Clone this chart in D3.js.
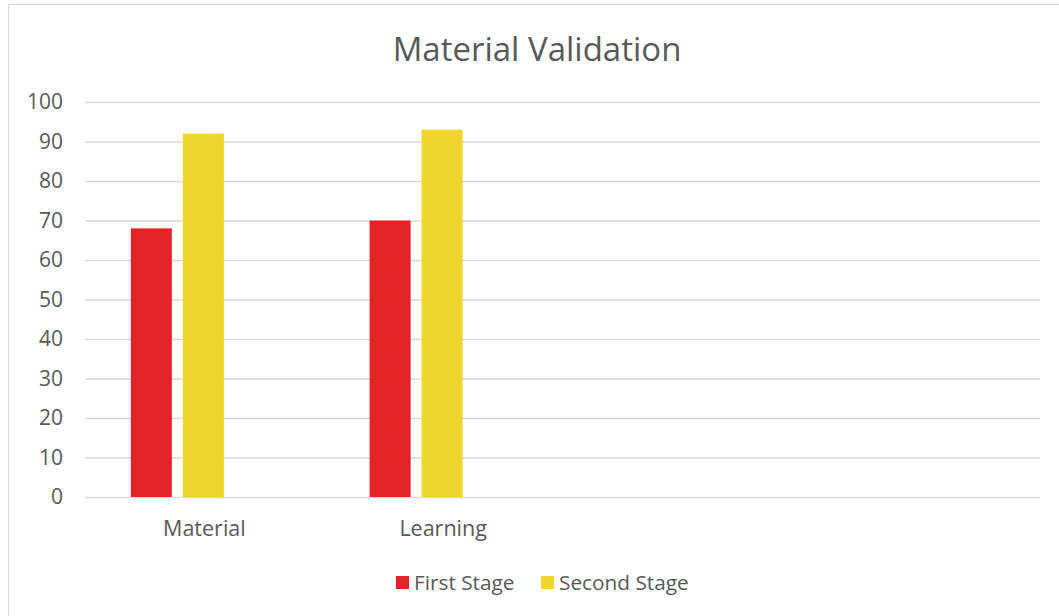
<!DOCTYPE html>
<html>
<head>
<meta charset="utf-8">
<script src="https://cdn.jsdelivr.net/npm/d3@7"></script>
<style>
  html, body { margin: 0; padding: 0; background: #fff; }
  svg { display: block; }
  text { font-family: "Open Sans", "Noto Sans", sans-serif; fill: #595959; }
</style>
</head>
<body>
<svg id="chart" width="1059" height="616"></svg>
<script>
// Chart data
const title = "Material Validation";
const categories = ["Material", "Learning", "", ""];
const seriesNames = ["First Stage", "Second Stage"];
const firstStage = [68, 70, null, null];
const secondStage = [92, 93, null, null];
const yTicks = [0, 10, 20, 30, 40, 50, 60, 70, 80, 90, 100];
const seriesColors = ["#E32427", "#F0D52F"];

const svg = d3.select("#chart");
const W = 1059, H = 616;

// outer chart-area frame
svg.append("rect")
  .attr("x", 8.5).attr("y", 4.5)
  .attr("width", W - 6).attr("height", H)
  .attr("fill", "#fff").attr("stroke", "#d9d9d9").attr("stroke-width", 1);

const plot = { left: 85, right: 1040, top: 102, bottom: 497 };

const x = d3.scaleBand()
  .domain(d3.range(categories.length))
  .range([plot.left, plot.right]);

// three bar slots per category; only the first two carry data
const slots = d3.scaleBand()
  .domain([0, 1, 2])
  .range([0, x.bandwidth()])
  .paddingInner(0.2115)
  .paddingOuter(0.90);

const y = d3.scaleLinear().domain([0, 100]).range([plot.bottom, plot.top]);

// gridlines + y labels
const yAxis = d3.axisLeft(y).tickValues(yTicks).tickSize(-(plot.right - plot.left)).tickPadding(22);
const gy = svg.append("g").attr("transform", `translate(${plot.left},0)`).call(yAxis);
gy.select(".domain").remove();
gy.selectAll(".tick line").attr("stroke", "#d9d9d9").attr("stroke-width", 1.3);
gy.selectAll(".tick text")
  .attr("font-size", 21).attr("fill", "#595959")
  .style("font-family", '"Open Sans", sans-serif');

// bars
const series = [firstStage, secondStage];
series.forEach((vals, si) => {
  svg.append("g").selectAll("rect")
    .data(vals.map((v, i) => ({ v, i })).filter(d => d.v != null))
    .join("rect")
    .attr("x", d => x(d.i) + slots(si) - 1)
    .attr("y", d => y(d.v))
    .attr("width", slots.bandwidth())
    .attr("height", d => y(0) - y(d.v))
    .attr("fill", seriesColors[si]);
});

// category labels
const xAxis = d3.axisBottom(x).tickFormat(i => categories[i]).tickSize(0).tickPadding(24);
const gx = svg.append("g").attr("transform", `translate(0,${plot.bottom})`).call(xAxis);
gx.select(".domain").remove();
gx.selectAll(".tick text")
  .attr("font-size", 21.5).attr("fill", "#595959")
  .style("font-family", '"Open Sans", sans-serif');

// title
svg.append("text")
  .attr("x", 537).attr("y", 61)
  .attr("text-anchor", "middle")
  .attr("font-size", 33)
  .text(title);

// legend
const legendItems = [
  { name: seriesNames[0], color: seriesColors[0], x: 396 },
  { name: seriesNames[1], color: seriesColors[1], x: 541 }
];
const lg = svg.append("g");
legendItems.forEach(it => {
  lg.append("rect").attr("x", it.x).attr("y", 576).attr("width", 13).attr("height", 13).attr("fill", it.color);
  lg.append("text").attr("x", it.x + 18).attr("y", 590).attr("font-size", 20.8).text(it.name);
});
</script>
</body>
</html>
